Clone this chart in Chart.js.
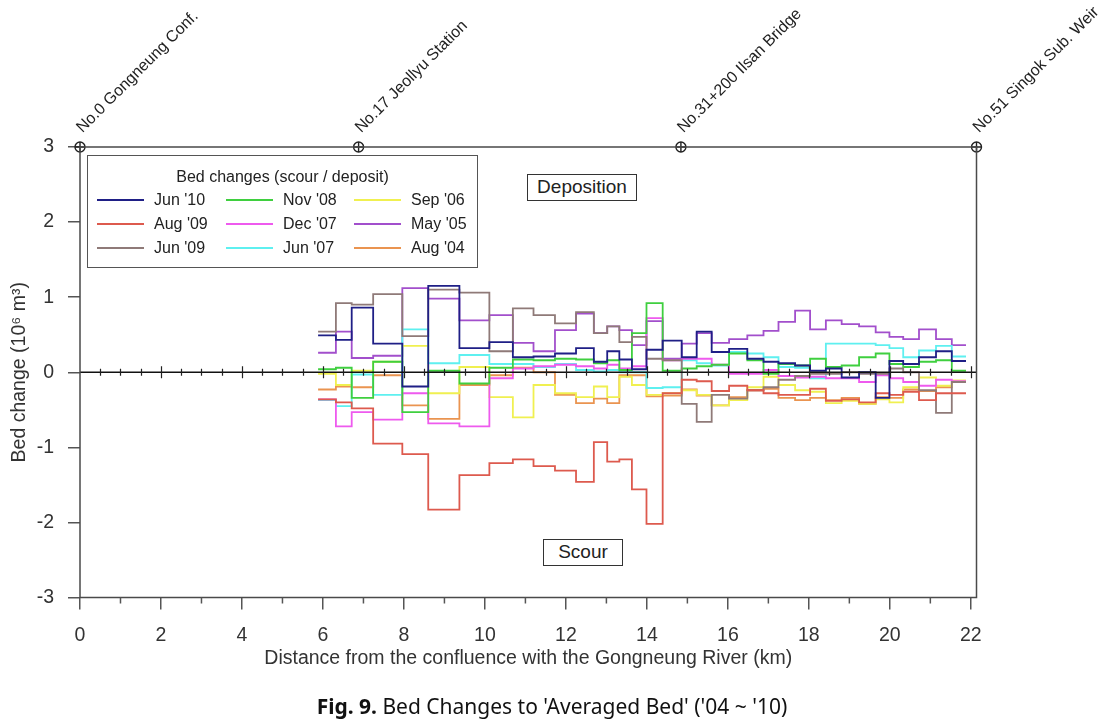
<!DOCTYPE html>
<html><head><meta charset="utf-8">
<script src="https://cdn.jsdelivr.net/npm/chart.js@4.4.1/dist/chart.umd.min.js"></script>
<style>
html,body{margin:0;padding:0;background:#fff;}
#wrap{position:relative;width:1111px;height:724px;overflow:hidden;font-family:"Liberation Sans",Arial,sans-serif;}
#c{position:absolute;left:0;top:0;}
#legend{position:absolute;left:87px;top:155px;width:391px;height:113px;border:1.5px solid #555;background:#fff;box-sizing:border-box;font-size:16px;color:#222;}
#legend .title{position:absolute;left:0;right:0;top:12px;text-align:center;line-height:18px;}
#legend .items{position:absolute;left:9px;top:32px;display:grid;grid-template-rows:repeat(3,24px);grid-auto-flow:column;grid-template-columns:129px 128px 128px;}
.item{display:flex;align-items:center;line-height:18px;white-space:nowrap;}
.item .sw{width:47px;height:0;border-top:2px solid;margin-right:10px;}
.note{position:absolute;border:1.5px solid #333;background:#fff;font-size:19px;color:#222;box-sizing:border-box;text-align:center;line-height:23px;}
#cap{position:absolute;top:693px;left:0;width:1104px;text-align:center;font-family:"Noto Sans",sans-serif;font-size:21px;line-height:26px;color:#111;}
</style>
</head><body>
<div id="wrap">
<canvas id="c" width="1111" height="724"></canvas>
<div id="legend"><div class="title">Bed changes (scour / deposit)</div><div class="items" id="items"></div></div>
<div class="note" style="left:527px;top:174px;width:110px;height:27px;">Deposition</div>
<div class="note" style="left:543px;top:539px;width:80px;height:27px;">Scour</div>
<div id="cap"><b>Fig. 9.</b> Bed Changes to 'Averaged Bed' ('04 ~ '10)</div>
</div>
<script>
// Section boundaries along the river (km)
const sectionKm = [5.88, 6.32, 6.71, 7.24, 7.96, 8.60, 9.37, 10.11, 10.69, 11.20, 11.73, 12.25, 12.69, 13.02, 13.32, 13.63, 13.99, 14.39, 14.86, 15.23, 15.60, 16.03, 16.48, 16.88, 17.25, 17.66, 18.03, 18.42, 18.81, 19.24, 19.65, 19.99, 20.33, 20.72, 21.14, 21.53, 21.88];

// Bed change per section (10^6 m3)
const jun10 = [0.49, 0.43, 0.86, 0.38, -0.19, 1.15, 0.32, 0.40, 0.20, 0.21, 0.25, 0.32, 0.14, 0.28, 0.17, 0.04, 0.30, 0.42, 0.20, 0.54, 0.27, 0.31, 0.18, 0.14, 0.12, 0.09, 0.02, 0.05, -0.07, 0.00, -0.34, 0.15, 0.11, 0.20, 0.28, 0.15];
const aug09 = [-0.36, -0.40, -0.48, -0.95, -1.09, -1.83, -1.37, -1.21, -1.16, -1.25, -1.31, -1.46, -0.93, -1.19, -1.16, -1.56, -2.02, -0.28, -0.10, -0.12, -0.25, -0.18, -0.24, -0.28, -0.30, -0.30, -0.22, -0.38, -0.36, -0.40, -0.28, -0.30, -0.26, -0.37, -0.28, -0.28];
const jun09 = [0.54, 0.92, 0.90, 1.04, 0.48, 1.10, 1.06, 0.28, 0.85, 0.76, 0.65, 0.80, 0.52, 0.61, 0.40, 0.47, 0.18, 0.16, -0.42, -0.66, -0.30, -0.35, -0.24, -0.20, -0.10, -0.05, -0.02, -0.02, 0.00, -0.02, -0.02, 0.05, 0.00, -0.24, -0.54, -0.13];
const nov08 = [0.04, 0.06, -0.34, 0.14, -0.53, 0.02, -0.15, 0.06, 0.17, 0.16, 0.18, 0.17, 0.12, 0.16, 0.03, 0.52, 0.92, 0.02, 0.05, 0.08, 0.10, 0.25, 0.16, -0.02, 0.11, 0.09, 0.18, 0.07, 0.09, 0.20, 0.25, 0.11, 0.07, 0.14, 0.16, 0.02];
const dec07 = [-0.36, -0.72, -0.53, -0.63, -0.28, -0.68, -0.72, -0.08, 0.05, 0.08, 0.10, 0.08, 0.05, 0.10, 0.05, 0.08, 0.72, 0.16, 0.18, 0.18, 0.10, -0.02, -0.02, 0.03, -0.05, -0.07, -0.06, -0.08, -0.08, -0.13, -0.04, -0.08, -0.13, -0.18, -0.10, -0.12];
const jun07 = [-0.37, -0.45, -0.03, -0.30, 0.57, 0.12, 0.23, 0.11, 0.11, 0.07, 0.11, 0.03, 0.01, 0.03, 0.00, 0.00, -0.21, -0.20, 0.16, 0.12, 0.09, 0.27, 0.25, 0.20, 0.07, 0.06, -0.08, 0.38, 0.38, 0.38, 0.36, 0.32, 0.20, 0.29, 0.35, 0.21];
const sep06 = [-0.02, -0.17, 0.02, 0.14, 0.35, -0.28, 0.07, -0.33, -0.60, -0.17, -0.28, -0.33, -0.19, -0.33, -0.06, -0.17, -0.30, -0.28, -0.24, -0.30, -0.44, -0.37, -0.20, -0.06, -0.17, -0.24, -0.26, -0.41, -0.38, -0.42, -0.36, -0.40, -0.20, -0.07, -0.18, -0.11];
const may05 = [0.26, 0.54, 0.19, 0.22, 1.12, 0.98, 0.69, 0.76, 0.39, 0.28, 0.56, 0.78, 0.52, 0.61, 0.56, 0.36, 0.68, 0.18, 0.38, 0.52, 0.39, 0.44, 0.49, 0.55, 0.67, 0.82, 0.57, 0.69, 0.64, 0.61, 0.53, 0.47, 0.44, 0.57, 0.44, 0.36];
const aug04 = [-0.23, -0.19, -0.20, -0.04, -0.44, -0.62, -0.17, -0.04, 0.06, 0.00, -0.30, -0.41, -0.35, -0.41, -0.04, -0.04, -0.32, -0.31, -0.23, -0.31, -0.44, -0.33, -0.24, -0.22, -0.34, -0.37, -0.34, -0.37, -0.34, -0.42, -0.33, -0.34, -0.23, -0.25, -0.20, -0.13];

const seriesNames = ["Jun '10", "Aug '09", "Jun '09", "Nov '08", "Dec '07", "Jun '07", "Sep '06", "May '05", "Aug '04"];
const seriesColors = ['#1f1f86', '#dd5a4e', '#8f7a78', '#3fcf3f', '#ee5aee', '#5ef0f0', '#f0f050', '#a24fcc', '#ea9450'];
const seriesValues = [jun10, aug09, jun09, nov08, dec07, jun07, sep06, may05, aug04];

// Station markers along the top
const stationKm = [0, 6.88, 14.84, 22.14];
const stationNames = ['No.0 Gongneung Conf.', 'No.17 Jeollyu Station', 'No.31+200 Ilsan Bridge', 'No.51 Singok Sub. Weir'];

const xTitle = 'Distance from the confluence with the Gongneung River (km)';
const yTitle = 'Bed change (10\u2076 m\u00B3)';
const FONT = '"Liberation Sans", Arial, sans-serif';

function stepPoints(vals) {
  const pts = vals.map((v, i) => ({x: sectionKm[i], y: v}));
  pts.push({x: sectionKm[vals.length], y: vals[vals.length - 1]});
  return pts;
}

const datasets = seriesValues.map((vals, i) => ({
  label: seriesNames[i],
  data: stepPoints(vals),
  borderColor: seriesColors[i],
  backgroundColor: seriesColors[i],
  borderWidth: 1.8,
  stepped: 'before',
  pointRadius: 0,
  fill: false
}));
const markerData = stationKm.map(k => ({x: k, y: 3}));
datasets.push({label: '_ring', data: markerData, showLine: false, pointStyle: 'circle', pointRadius: 5, borderColor: '#222', backgroundColor: 'rgba(0,0,0,0)', pointBorderWidth: 1.4, borderWidth: 1.4, clip: false, order: -1});
datasets.push({label: '_cross', data: markerData, showLine: false, pointStyle: 'cross', pointRadius: 5, borderColor: '#222', pointBorderWidth: 1.4, borderWidth: 1.4, clip: false, order: -1});

// HTML legend from series
const items = document.getElementById('items');
seriesNames.forEach((n, i) => {
  const d = document.createElement('div');
  d.className = 'item';
  d.innerHTML = '<span class="sw" style="border-color:' + seriesColors[i] + '"></span><span>' + n + '</span>';
  items.appendChild(d);
});

const framePlugin = {
  id: 'frame',
  afterDatasetsDraw(chart) {
    const {ctx, chartArea: a, scales: {x, y}} = chart;
    const y0 = y.getPixelForValue(0);
    ctx.save();
    ctx.strokeStyle = '#111';
    ctx.lineWidth = 1.5;
    ctx.beginPath(); ctx.moveTo(a.left, y0); ctx.lineTo(a.right, y0); ctx.stroke();
    ctx.lineWidth = 1.2;
    ctx.strokeStyle = '#222';
    for (let k = 0.5; k <= 22; k += 0.5) {
      const px = Math.round(x.getPixelForValue(k)) + 0.5;
      const h = (k % 2 === 0) ? 6 : 3.5;
      ctx.beginPath(); ctx.moveTo(px, y0 - h); ctx.lineTo(px, y0 + h); ctx.stroke();
    }
    ctx.restore();
  },
  afterDraw(chart) {
    const {ctx, chartArea: a, scales: {x}} = chart;
    ctx.save();
    ctx.strokeStyle = '#4a4a4a';
    ctx.lineWidth = 1.5;
    ctx.strokeRect(a.left, a.top, a.right - a.left, a.bottom - a.top);
    ctx.strokeStyle = '#555';
    for (let k = 1; k <= 22; k += 2) {
      const px = x.getPixelForValue(k);
      ctx.beginPath(); ctx.moveTo(px, a.bottom); ctx.lineTo(px, a.bottom + 6); ctx.stroke();
    }
    ctx.restore();
  }
};

new Chart(document.getElementById('c'), {
  type: 'line',
  data: {datasets},
  plugins: [framePlugin],
  options: {
    responsive: false,
    animation: false,
    devicePixelRatio: 1,
    layout: {padding: {left: 0, right: 134.5, top: 0, bottom: 50}},
    plugins: {legend: {display: false}, tooltip: {enabled: false}},
    elements: {point: {radius: 0}},
    scales: {
      x: {
        type: 'linear', position: 'bottom', min: 0, max: 22.14,
        ticks: {stepSize: 1, includeBounds: false, autoSkip: false, maxRotation: 0, padding: 14, color: '#333',
          font: {family: FONT, size: 19.5},
          callback: v => (v % 2 === 0 ? String(v) : '')},
        grid: {drawOnChartArea: false, tickLength: 12, lineWidth: 1.5, color: '#555',
          tickColor: c => (c.tick && c.tick.value % 2 === 0) ? '#555' : 'rgba(0,0,0,0)'},
        border: {display: false},
        title: {display: true, text: xTitle, color: '#333', font: {family: FONT, size: 19.5}, padding: {top: 0, bottom: 4}},
        afterFit: s => { s.height = 76.5; }
      },
      xTop: {
        type: 'linear', position: 'top', min: 0, max: 22.14,
        afterBuildTicks: s => { s.ticks = stationKm.map(v => ({value: v})); },
        ticks: {minRotation: 45, maxRotation: 45, autoSkip: false, padding: 10, labelOffset: 13, color: '#222',
          font: {family: FONT, size: 16},
          callback: (v, i) => stationNames[i]},
        grid: {display: false, drawTicks: false, drawOnChartArea: false},
        border: {display: false},
        afterFit: s => { s.height = 147; }
      },
      y: {
        min: -3, max: 3,
        ticks: {stepSize: 1, padding: 14, color: '#333', font: {family: FONT, size: 19.5}},
        grid: {drawOnChartArea: false, tickLength: 12, lineWidth: 1.5, color: '#555'},
        border: {display: false},
        title: {display: true, text: yTitle, color: '#333', font: {family: FONT, size: 19.5}, padding: {top: 8, bottom: 0}},
        afterFit: s => { s.width = 80; }
      }
    }
  }
});
</script>
</body></html>
